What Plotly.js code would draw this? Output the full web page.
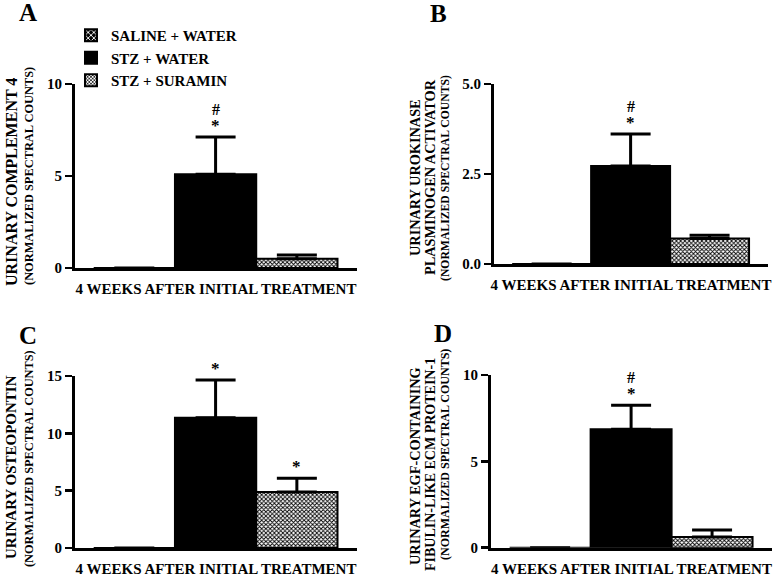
<!DOCTYPE html>
<html>
<head>
<meta charset="utf-8">
<script src="https://cdn.plot.ly/plotly-3.0.1.min.js"></script>
<style>html,body{margin:0;padding:0;background:#fff;}#chart{width:775px;height:577px;}</style>
</head>
<body>
<div id="chart"></div>
<script>
// ---- data ----
const groups = ['SALINE + WATER', 'STZ + WATER', 'STZ + SURAMIN'];
const xTitle = '4 WEEKS AFTER INITIAL TREATMENT';

const meanA = [0, 5.10, 0.50];
const errA  = [0, 2.02, 0.21];
const marksA = ['', '#*', ''];

const meanB = [0, 2.72, 0.71];
const errB  = [0, 0.89, 0.09];
const marksB = ['', '#*', ''];

const meanC = [0, 11.36, 4.88];
const errC  = [0, 3.29, 1.20];
const marksC = ['', '*', '*'];

const meanD = [0, 6.86, 0.62];
const errD  = [0, 1.39, 0.41];
const marksD = ['', '#*', ''];

const panelLetters = ['A', 'B', 'C', 'D'];
const yTitlesA = ['URINARY COMPLEMENT 4', '(NORMALIZED SPECTRAL COUNTS)'];
const yTitlesB = ['URINARY UROKINASE', 'PLASMINOGEN ACTIVATOR', '(NORMALIZED SPECTRAL COUNTS)'];
const yTitlesC = ['URINARY OSTEOPONTIN', '(NORMALIZED SPECTRAL COUNTS)'];
const yTitlesD = ['URINARY EGF-CONTAINING', 'FIBULIN-LIKE ECM PROTEIN-1', '(NORMALIZED SPECTRAL COUNTS)'];
const yTicksA = [0, 5, 10];
const yTicksB = [0, 2.5, 5];
const yTicksC = [0, 5, 10, 15];
const yTicksD = [0, 5, 10];
const yTickTextB = ['0.0', '2.5', '5.0'];

// ---- styles ----
const FONT = 'Liberation Serif, Times New Roman, serif';
const W = 775, H = 577;
const px = v => v / W;
const py = v => 1 - v / H;

const barStyles = [
  {color: '#000', pattern: {shape: 'x', fgcolor: '#fff', bgcolor: '#000', size: 5, solidity: 0.4}},
  {color: '#000'},
  {color: '#fff', pattern: {shape: 'x', fgcolor: '#000', bgcolor: '#fff', size: 3, solidity: 0.5}}
];

const panels = [
  {mean: meanA, err: errA, marks: marksA, xa: 'x', ya: 'y', titles: yTitlesA, ticks: yTicksA, tt: null,
   xd: [px(75), px(357)], yd: [py(268), py(84)], yr: [0, 10],
   letter: [28, 12], tx: [11, 29], ty: [182, 176], tsz: [16, 12.4]},
  {mean: meanB, err: errB, marks: marksB, xa: 'x2', ya: 'y2', titles: yTitlesB, ticks: yTicksB, tt: yTickTextB,
   xd: [px(494), px(768)], yd: [py(264), py(84)], yr: [0, 5],
   letter: [439, 13], tx: [415, 430, 445], ty: [178, 177, 178], tsz: [14.3, 14.3, 11.7]},
  {mean: meanC, err: errC, marks: marksC, xa: 'x3', ya: 'y3', titles: yTitlesC, ticks: yTicksC, tt: null,
   xd: [px(75), px(357)], yd: [py(548), py(376)], yr: [0, 15],
   letter: [28, 335], tx: [11, 29], ty: [467, 459], tsz: [15, 12.3]},
  {mean: meanD, err: errD, marks: marksD, xa: 'x4', ya: 'y4', titles: yTitlesD, ticks: yTicksD, tt: null,
   xd: [px(491), px(772)], yd: [py(547.7), py(375)], yr: [0, 10],
   letter: [443, 333], tx: [415, 430, 445], ty: [466, 465, 455], tsz: [14.3, 14, 12]}
];

const traces = [];
const annotations = [];
const layout = {
  width: W, height: H,
  margin: {l: 0, r: 0, t: 0, b: 0},
  paper_bgcolor: '#fff', plot_bgcolor: 'rgba(0,0,0,0)',
  barmode: 'overlay', bargap: 0,
  font: {family: FONT, color: '#000', size: 15, weight: 'bold'},
  showlegend: true,
  legend: {x: px(71), y: py(19), xanchor: 'left', yanchor: 'top',
           bgcolor: 'rgba(0,0,0,0)', font: {family: FONT, size: 15, weight: 'bold', color: '#000'},
           tracegroupgap: 0, itemwidth: 30},
  annotations: annotations
};

panels.forEach((p, pi) => {
  groups.forEach((g, gi) => {
    traces.push({
      type: 'bar',
      name: g,
      legendgroup: g,
      showlegend: pi === 0,
      x: [g],
      y: [p.mean[gi]],
      width: 1,
      xaxis: p.xa, yaxis: p.ya,
      marker: Object.assign({line: {color: '#000', width: 2}}, barStyles[gi]),
      error_y: {type: 'data', symmetric: false, array: [p.err[gi]], arrayminus: [0],
                visible: true, color: '#000', thickness: 3, width: 20},
      hoverinfo: 'skip'
    });
    // significance markers
    const m = p.marks[gi];
    if (m.includes('*')) {
      annotations.push({xref: p.xa, yref: p.ya, x: g, y: p.mean[gi] + p.err[gi],
        text: '*', showarrow: false, yanchor: 'bottom', yshift: 0,
        font: {family: FONT, size: 17, weight: 'bold'}});
    }
    if (m.includes('#')) {
      annotations.push({xref: p.xa, yref: p.ya, x: g, y: p.mean[gi] + p.err[gi],
        text: '#', showarrow: false, yanchor: 'bottom', yshift: 17,
        font: {family: FONT, size: 16, weight: 'bold'}});
    }
  });

  const xk = 'xaxis' + (pi === 0 ? '' : pi + 1);
  const yk = 'yaxis' + (pi === 0 ? '' : pi + 1);
  layout[xk] = {
    domain: p.xd, anchor: p.ya, type: 'category', categoryarray: groups, categoryorder: 'array',
    range: [-0.73, 2.74], showticklabels: false, ticks: '', showgrid: false, zeroline: false,
    showline: true, linecolor: '#000', linewidth: 3, fixedrange: true,
    title: {text: xTitle, font: {family: FONT, size: 15, weight: 'bold', color: '#000'}, standoff: 14}
  };
  layout[yk] = {
    domain: p.yd, anchor: p.xa, range: p.yr, tickvals: p.ticks,
    ticktext: p.tt ? p.tt : p.ticks.map(String),
    ticks: 'outside', ticklen: 7, tickwidth: 2.5, tickcolor: '#000',
    showgrid: false, zeroline: false, showline: true, linecolor: '#000', linewidth: 3,
    tickfont: {family: FONT, size: 15, weight: 'bold', color: '#000'}, fixedrange: true
  };

  // panel letter
  annotations.push({xref: 'paper', yref: 'paper', x: px(p.letter[0]), y: py(p.letter[1]),
    text: panelLetters[pi], showarrow: false, xanchor: 'center', yanchor: 'middle',
    font: {family: FONT, size: 25, weight: 'bold'}});

  // y titles
  p.titles.forEach((t, ti) => {
    annotations.push({xref: 'paper', yref: 'paper', x: px(p.tx[ti]), y: py(p.ty[ti]),
      text: t, showarrow: false, textangle: -90, xanchor: 'center', yanchor: 'middle',
      font: {family: FONT, size: p.tsz[ti], weight: 'bold'}});
  });
});

Plotly.newPlot('chart', traces, layout, {displayModeBar: false, staticPlot: true});
</script>
</body>
</html>
